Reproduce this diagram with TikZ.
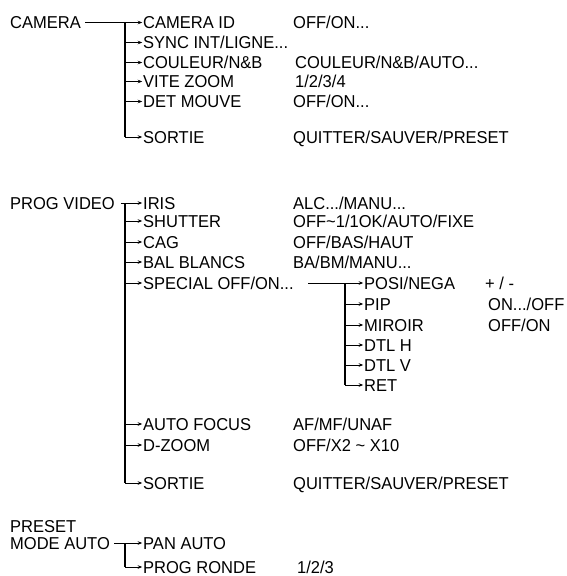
\documentclass[tikz,border=0pt]{standalone}
\usepackage{fontspec}
\setmainfont[FakeStretch=0.96]{Liberation Sans}
\usetikzlibrary{arrows.meta}
\begin{document}
\begin{tikzpicture}[x=1pt,y=-1pt,
 lbl/.style={inner sep=0pt, anchor=west, text height=12.3pt, text depth=0pt, font=\fontsize{17.2}{19}\selectfont},
 br/.style={line width=0.9pt, -{Stealth[length=4.5pt,width=3.6pt]}, shorten >=0.8pt},
 trunk/.style={line width=1.5pt}]
\useasboundingbox[fill=white] (0,0) rectangle (567,576);
% ---- CAMERA ----
\node[lbl] (cam) at (10,22.5) {CAMERA};
\node[lbl] (camid) at (143,22.5) {CAMERA ID};
\node[lbl] (sync) at (143,42.5) {SYNC INT/LIGNE...};
\node[lbl] (coul) at (143,62.5) {COULEUR/N\&B};
\node[lbl] (vite) at (143,81.5) {VITE ZOOM};
\node[lbl] (det) at (143,101.5) {DET MOUVE};
\node[lbl] (sortA) at (143,137) {SORTIE};
\node[lbl] (vA1) at (293,22.5) {OFF/ON...};
\node[lbl] (vA3) at (295,62.5) {COULEUR/N\&B/AUTO...};
\node[lbl] (vA4) at (295,81.5) {1/2/3/4};
\node[lbl] (vA5) at (293,101.5) {OFF/ON...};
\node[lbl] (vA6) at (293,137) {QUITTER/SAUVER/PRESET};
\coordinate (tA) at (125,22.5);
\draw[trunk] (tA) -- (sortA.west -| tA);
\draw[br] ([xshift=4pt]cam.east) -- (camid.west);
\foreach \n in {sync,coul,vite,det,sortA}
  \draw[br] (\n.west -| tA) -- (\n.west);
% ---- PROG VIDEO ----
\node[lbl] (pv) at (10,203) {PROG VIDEO};
\node[lbl] (iris) at (143,203) {IRIS};
\node[lbl] (shut) at (143,221) {SHUTTER};
\node[lbl] (cag) at (143,242) {CAG};
\node[lbl] (bal) at (143,262) {BAL BLANCS};
\node[lbl] (spec) at (143,283) {SPECIAL OFF/ON...};
\node[lbl] (af) at (143,424) {AUTO FOCUS};
\node[lbl] (dz) at (143,445) {D-ZOOM};
\node[lbl] (sortB) at (143,483) {SORTIE};
\node[lbl] (vB1) at (293,203) {ALC.../MANU...};
\node[lbl] (vB2) at (293,221) {OFF\textasciitilde1/1OK/AUTO/FIXE};
\node[lbl] (vB3) at (293,242) {OFF/BAS/HAUT};
\node[lbl] (vB4) at (293,262) {BA/BM/MANU...};
\node[lbl] (vB6) at (293,424) {AF/MF/UNAF};
\node[lbl] (vB7) at (293,445) {OFF/X2 \textasciitilde{} X10};
\node[lbl] (vB8) at (293,483) {QUITTER/SAUVER/PRESET};
\coordinate (tB) at (125,203);
\draw[trunk] (tB) -- (sortB.west -| tB);
\draw[br] ([xshift=6pt]pv.east) -- (iris.west);
\foreach \n in {shut,cag,bal,spec,af,dz,sortB}
  \draw[br] (\n.west -| tB) -- (\n.west);
% ---- SPECIAL sub-menu ----
\node[lbl] (posi) at (364,283) {POSI/NEGA};
\node[lbl] (pip) at (364,304) {PIP};
\node[lbl] (mir) at (364,325) {MIROIR};
\node[lbl] (dtlh) at (364,345) {DTL H};
\node[lbl] (dtlv) at (364,365) {DTL V};
\node[lbl] (ret) at (364,385) {RET};
\node[lbl] (vC1) at (485,283) {+ / -};
\node[lbl] (vC2) at (488,304) {ON.../OFF};
\node[lbl] (vC3) at (488,325) {OFF/ON};
\coordinate (s0) at (308,283);
\coordinate (tC) at (345,283);
\draw[trunk] (tC) -- (ret.west -| tC);
\draw[br] (s0) -- (posi.west);
\foreach \n in {pip,mir,dtlh,dtlv,ret}
  \draw[br] (\n.west -| tC) -- (\n.west);
% ---- PRESET MODE AUTO ----
\node[lbl] (pre) at (10,526) {PRESET};
\node[lbl] (mode) at (10,543) {MODE AUTO};
\node[lbl] (pan) at (143,543) {PAN AUTO};
\node[lbl] (ronde) at (143,567) {PROG RONDE};
\node[lbl] (vD2) at (297,567) {1/2/3};
\coordinate (tD) at (125,543);
\draw[trunk] (tD) -- (ronde.west -| tD);
\draw[br] ([xshift=4pt]mode.east) -- (pan.west);
\draw[br] (ronde.west -| tD) -- (ronde.west);
\end{tikzpicture}
\end{document}
